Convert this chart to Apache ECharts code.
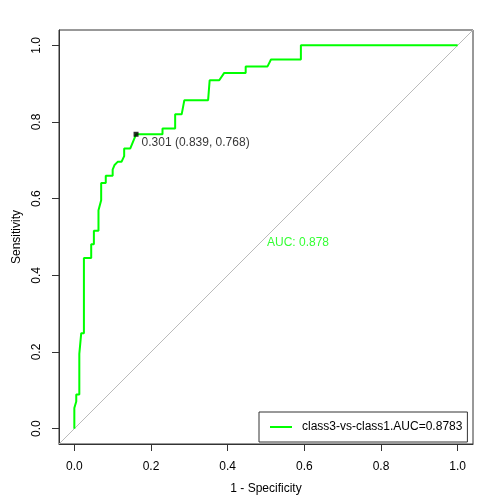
<!DOCTYPE html>
<html><head><meta charset="utf-8">
<script src="https://cdn.jsdelivr.net/npm/echarts@6/dist/echarts.min.js"></script>
<style>html,body{margin:0;padding:0;background:#fff}#c{width:504px;height:504px}</style>
</head><body><div id="c"></div>
<script>
// ROC curve points: 1 - specificity (x) and sensitivity (y)
const fpr  = [0,0,0.005,0.005,0.013,0.013,0.018,0.018,0.025,0.025,0.044,0.044,0.051,0.051,0.063,0.063,0.070,0.070,0.082,0.082,0.100,0.100,0.105,0.113,0.123,0.130,0.130,0.146,0.161,0.230,0.230,0.263,0.263,0.280,0.287,0.349,0.353,0.378,0.391,0.447,0.447,0.504,0.513,0.591,0.591,1.0];
const sens = [0,0.054,0.071,0.089,0.089,0.195,0.195,0.249,0.249,0.445,0.445,0.481,0.481,0.516,0.516,0.570,0.596,0.641,0.641,0.660,0.660,0.676,0.688,0.696,0.696,0.711,0.731,0.731,0.768,0.768,0.783,0.783,0.820,0.820,0.857,0.857,0.909,0.909,0.928,0.928,0.945,0.945,0.963,0.963,1.0,1.0];
const seriesName = 'class3-vs-class1.AUC=0.8783';
const aucText = 'AUC: 0.878';
const aucPos = [0.5, 0.5];
const bestPoint = [0.161, 0.768];
const bestText = '0.301 (0.839, 0.768)';
const diagX = [-0.04, 1.04];
const diagY = [-0.04, 1.04];
const ticks = [0, 0.2, 0.4, 0.6, 0.8, 1.0];

const font = 'Liberation Sans, Arial, Helvetica, sans-serif';
const axisCommon = {
  type: 'value', min: -0.04, max: 1.04,
  splitLine: {show: false},
  axisLine: {show: true, onZero: false, lineStyle: {color: '#333', width: 1}},
  axisTick: {show: true, length: 7, customValues: ticks, lineStyle: {color: '#333'}},
  axisLabel: {customValues: ticks, formatter: v => v.toFixed(1), color: '#000', fontSize: 12, fontFamily: font},
  nameLocation: 'middle',
  nameTextStyle: {color: '#000', fontSize: 12, fontFamily: font}
};
const chart = echarts.init(document.getElementById('c'), null, {renderer: 'canvas'});
chart.setOption({
  animation: false,
  grid: {left: 59, right: 31, top: 30, bottom: 60, show: true, borderColor: '#333', borderWidth: 1},
  xAxis: Object.assign({}, axisCommon, {name: '1 - Specificity', nameGap: 39,
    axisLabel: Object.assign({}, axisCommon.axisLabel, {margin: 17})}),
  yAxis: Object.assign({}, axisCommon, {name: 'Sensitivity', nameGap: 36,
    axisLabel: Object.assign({}, axisCommon.axisLabel, {margin: 16, rotate: 90})}),
  legend: {
    data: [seriesName], left: 259, top: 412, orient: 'vertical',
    padding: [9, 5, 9, 11], itemWidth: 22, itemHeight: 2, icon: 'rect',
    borderColor: '#333', borderWidth: 1, backgroundColor: '#fff',
    textStyle: {fontSize: 12, fontFamily: font, color: '#000', padding: [0, 0, 0, 5]}
  },
  series: [
    {type: 'line', name: 'diag', data: diagX.map((x, i) => [x, diagY[i]]), showSymbol: false, symbol: 'none',
     lineStyle: {color: '#bbbbbb', width: 1}, silent: true, z: 1},
    {type: 'line', name: seriesName, data: fpr.map((x, i) => [x, sens[i]]), showSymbol: false, symbol: 'none',
     itemStyle: {color: '#00ff00'}, lineStyle: {color: '#00ff00', width: 2}, z: 2},
    {type: 'scatter', name: 'best', data: [bestPoint], symbol: 'rect', symbolSize: 5,
     itemStyle: {color: '#000'}, z: 3,
     label: {show: true, formatter: bestText, position: 'right', distance: 3, offset: [0, 8.5],
       color: '#000', fontSize: 12, fontFamily: font}},
    {type: 'scatter', name: 'auc', data: [aucPos], symbolSize: 0.01, z: 3,
     label: {show: true, formatter: aucText, position: 'right', distance: 1, offset: [0, 5.5],
       color: '#00ff00', fontSize: 12, fontFamily: font}}
  ]
});
</script></body></html>
